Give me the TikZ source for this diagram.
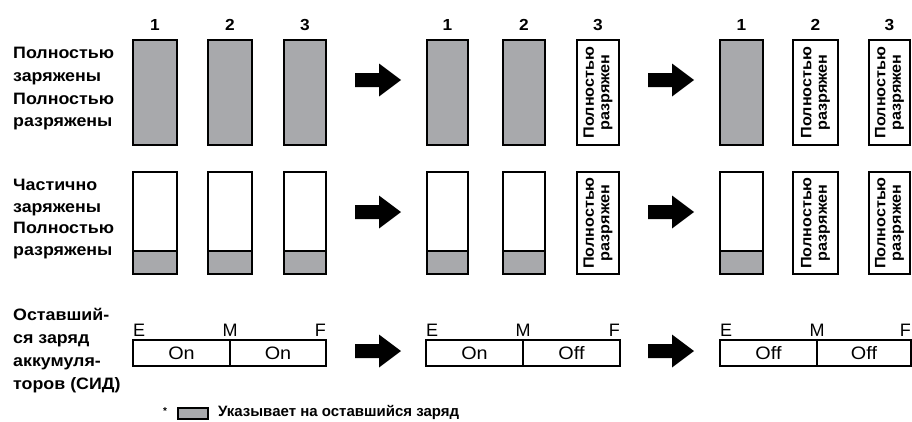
\documentclass[tikz,border=0pt]{standalone}
\usepackage{fontspec}
\setmainfont{Liberation Sans}
\newfontfamily\lblfont{Liberation Sans}[FakeStretch=1.08]
\newfontfamily\onfont{Liberation Sans}[FakeStretch=1.1]
\definecolor{batgray}{RGB}{168,169,172}
\begin{document}
\begin{tikzpicture}[x=1pt,y=-1pt,
  lbl/.style={anchor=base west, inner sep=0, font=\lblfont\bfseries\fontsize{16.5}{18}\selectfont},
  leglbl/.style={anchor=base west, inner sep=0, font=\bfseries\fontsize{15}{18}\selectfont},
  num/.style={anchor=base, inner sep=0, font=\lblfont\bfseries\fontsize{16}{16}\selectfont},
  cellline/.style={draw=black, line width=1.6pt},
  rot/.style={rotate=90, align=center, inner sep=0, font=\lblfont\bfseries\fontsize{15}{15.5}\selectfont},
  emf/.style={inner sep=0, font=\fontsize{18}{18}\selectfont},
  onoff/.style={inner sep=0, font=\onfont\fontsize{18}{18}\selectfont},
  fatarrow/.pic={\fill[black] (0,-7) -- (24,-7) -- (24,-16.5) -- (46,0) -- (24,16.5) -- (24,7) -- (0,7) -- cycle;}
]
\useasboundingbox (0,0) rectangle (912,421);
\fill[white] (0,0) rectangle (912,421);

% left labels
\node[lbl] (l11) at (13,58) {Полностью};
\node[lbl] (l12) at (13,81) {заряжены};
\node[lbl] (l13) at (13,104) {Полностью};
\node[lbl] (l14) at (13,126) {разряжены};
\node[lbl] (l21) at (13,190) {Частично};
\node[lbl] (l22) at (13,212) {заряжены};
\node[lbl] (l23) at (13,233) {Полностью};
\node[lbl] (l24) at (13,255) {разряжены};
\node[lbl] (l31) at (13,320) {Оставший-};
\node[lbl] (l32) at (13,343) {ся заряд};
\node[lbl] (l33) at (13,366) {аккумуля-};
\node[lbl] (l34) at (13,389) {торов (СИД)};

% column numbers
\foreach \l/\r/\t [count=\i] in {133/177/1,208/252/2,284/326/3,427/468/1,503/545/2,577/619/3,720/763/1,793/838/2,869/910/3}
  \node[num] (n\i) at ({(\l+\r)/2},30) {\t};

% row 1: full / empty
\foreach \l/\r in {133/177,208/252,284/326,427/468,503/545,720/763}
  \draw[cellline, fill=batgray] (\l,40) rectangle (\r,145);
\foreach \l/\r [count=\i] in {577/619,793/838,869/910} {
  \draw[cellline, fill=white] (\l,40) rectangle (\r,145);
  \node[rot] (r1\i) at ({(\l+\r)/2},92.5) {Полностью\\разряжен};
}

% row 2: partial / empty
\foreach \l/\r in {133/177,208/252,284/326,427/468,503/545,720/763} {
  \draw[cellline, fill=white] (\l,172) rectangle (\r,274);
  \draw[cellline, fill=batgray] (\l,251) rectangle (\r,274);
}
\foreach \l/\r [count=\i] in {577/619,793/838,869/910} {
  \draw[cellline, fill=white] (\l,172) rectangle (\r,274);
  \node[rot] (r2\i) at ({(\l+\r)/2},223) {Полностью\\разряжен};
}

% arrows
\foreach \y in {80,212,351} {
  \pic at (355,\y) {fatarrow};
  \pic at (648,\y) {fatarrow};
}

% row 3: LED bars
\foreach \l/\m/\r/\a/\b [count=\i] in {133/230/326/On/On,426/523/620/On/Off,720/817/911/Off/Off} {
  \draw[cellline, line width=1.3pt] (\l,340) rectangle (\r,366);
  \draw[cellline, line width=1.3pt] (\m,340) -- (\m,366);
  \node[emf, anchor=base west] (e\i) at (\l,336) {E};
  \node[emf, anchor=base] (m\i) at (\m,336) {M};
  \node[emf, anchor=base east] (f\i) at (\r,336) {F};
  \node[onoff] (a\i) at ({(\l+\m)/2},353) {\a};
  \node[onoff] (b\i) at ({(\m+\r)/2},353) {\b};
}

% legend
\node[inner sep=0, font=\bfseries\fontsize{10}{10}\selectfont] (star) at (165,411) {*};
\draw[cellline, line width=1.3pt, fill=batgray] (178,408) rectangle (208,419);
\node[leglbl] (leg) at (218,416) {Указывает на оставшийся заряд};
\end{tikzpicture}
\end{document}
